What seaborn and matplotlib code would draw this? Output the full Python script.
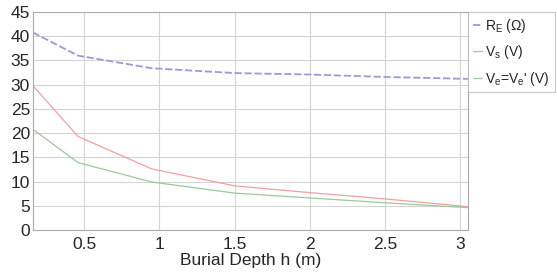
import pandas as pd
import matplotlib.pyplot as plt
import seaborn as sns

# === Data ===
depth = [0.16, 0.46, 0.95, 1.5, 2.0, 2.5, 3.05]
r_e = [40.8, 36.0, 33.4, 32.4, 32.1, 31.6, 31.2]
v_s = [29.8, 19.3, 12.6, 9.1, 7.7, 6.4, 4.8]
v_e = [20.8, 13.9, 9.9, 7.6, 6.6, 5.6, 4.6]

labels = [r"R$_\mathregular{E}$ ($\Omega$)", r"V$_\mathregular{s}$ (V)",
          r"V$_\mathregular{e}$=V$_\mathregular{e}$' (V)"]
colors = ["#9a9ad8", "#f0a0a0", "#9cc89c"]
styles = [(0, (4, 1.5)), "-", "-"]
widths = [1.3, 0.9, 0.9]

df = pd.DataFrame({"h": depth * 3,
                   "value": r_e + v_s + v_e,
                   "series": [labels[0]] * len(depth) + [labels[1]] * len(depth)
                   + [labels[2]] * len(depth)})

# === Plot ===
sns.set_style("whitegrid")
plt.rcParams["font.family"] = ["Liberation Sans", "DejaVu Sans"]
plt.rcParams["mathtext.fontset"] = "custom"
plt.rcParams["mathtext.rm"] = "Liberation Sans"

fig = plt.figure(figsize=(5.57, 2.75), dpi=100)
ax = fig.add_axes([0.059, 0.164, 0.781, 0.792])

for lab, c, ls, lw in zip(labels, colors, styles, widths):
    sub = df[df["series"] == lab]
    sns.lineplot(data=sub, x="h", y="value", ax=ax, color=c, linestyle=ls,
                 linewidth=lw, label=lab)

ax.set_xlim(0.16, 3.05)
ax.set_ylim(0, 45)
ax.set_xticks([0.5, 1, 1.5, 2, 2.5, 3])
ax.set_xticklabels(["0.5", "1", "1.5", "2", "2.5", "3"])
ax.set_yticks(range(0, 50, 5))
ax.tick_params(axis="both", labelsize=12.5, direction="in", length=3,
               color="#999999")
ax.tick_params(axis="x", pad=5)
ax.tick_params(axis="y", pad=2)
ax.set_xlabel("Burial Depth h (m)", fontsize=12.5, labelpad=1)
ax.set_ylabel("")
ax.grid(color="#d4d4d4", linewidth=0.8)
for s in ax.spines.values():
    s.set_color("#aaaaaa")
    s.set_linewidth(0.8)

leg = ax.legend(loc="upper left", bbox_to_anchor=(1.0, 1.0), fontsize=10,
                frameon=True, fancybox=False, handlelength=0.7,
                handletextpad=0.2, borderaxespad=0, labelspacing=0.6,
                borderpad=0.35)
leg.get_frame().set_edgecolor("#bbbbbb")
leg.get_frame().set_linewidth(0.8)

plt.savefig("out.png", dpi=100)
